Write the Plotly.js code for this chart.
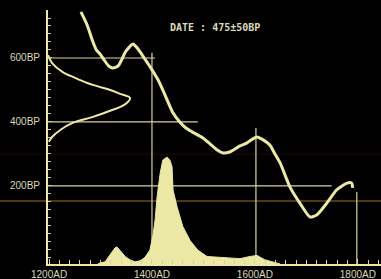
<!DOCTYPE html>
<html>
<head>
<meta charset="utf-8">
<script src="https://cdn.plot.ly/plotly-3.0.1.min.js"></script>
<style>html,body{margin:0;padding:0;background:#000;}#plot{width:381px;height:279px;}</style>
</head>
<body>
<div id="plot"></div>
<script>
// Calibration curve: calendar year (AD) vs radiocarbon age (BP)
const curveYear = [1262,1274,1284,1292,1299,1307,1316,1324,1334,1341,1348,1356,1363,1370,1377,1386,1394,1400,1412,1421,1431,1441,1454,1466,1478,1499,1513,1526,1538,1551,1571,1584,1596,1604,1616,1629,1639,1649,1668,1687,1707,1720,1740,1759,1779,1788,1790];
const curveBP   = [744,703,656,625,613,594,575,569,575,594,618,634,644,634,619,597,578,563,531,500,463,428,400,381,369,350,331,313,303,306,325,334,347,353,344,328,300,272,197,147,103,109,147,188,209,209,194];

// Measured date distribution (475 ± 50 BP), relative probability vs BP
const gaussProb = [0.0,0.05,0.18,0.33,0.48,0.6,0.76,0.88,1.0,0.96,0.88,0.79,0.55,0.3,0.15,0.05,0.01];
const gaussBP   = [609,584,556,538,522,512,500,488,475,459,447,438,416,397,375,353,338];

// Calibrated probability vs calendar year
const histYear = [1295,1299,1309,1318,1328,1332,1338,1348,1357,1367,1377,1386,1396,1402,1406,1410,1416,1421,1429,1435,1439,1441,1449,1454,1460,1474,1489,1507,1538,1571,1590,1604,1619,1639,1649];
const histProb = [0,0.01,0.02,0.08,0.15,0.16,0.13,0.07,0.04,0.02,0.03,0.06,0.13,0.27,0.41,0.63,0.85,0.97,1.0,0.97,0.91,0.69,0.53,0.44,0.35,0.22,0.13,0.07,0.06,0.05,0.07,0.08,0.04,0.01,0];

// Reference lines
const hLineBP = [600,400,200];
const hLineEndYear = [1406,1489,1749];
const vLineYear = [1400,1602,1798];
const vLineTopBP = [616,381,181];

const xTicks = [1200,1400,1600,1800];
const yTicks = [200,400,600];
const titleText = 'DATE : 475±50BP';

const pale = '#ece8a6';
const lineC = '#d6d2a0';
const xMin = 1198, xMax = 1845, yMin = -44, yMax = 750;

const traces = [];
for (let i = 0; i < hLineBP.length; i++) {
  traces.push({x:[xMin, hLineEndYear[i]], y:[hLineBP[i], hLineBP[i]], mode:'lines', line:{color:lineC, width:1.2}, hoverinfo:'skip', showlegend:false});
  traces.push({x:[vLineYear[i], vLineYear[i]], y:[vLineTopBP[i], yMin], mode:'lines', line:{color:lineC, width:1.2}, hoverinfo:'skip', showlegend:false});
}
traces.push({x:histYear, y:histProb, xaxis:'x', yaxis:'y2', mode:'lines', fill:'tozeroy', fillcolor:pale, line:{color:pale, width:1}, showlegend:false});
traces.push({x:curveYear, y:curveBP, mode:'lines', line:{color:pale, width:3, shape:'spline', smoothing:0.6}, showlegend:false});
traces.push({x:gaussProb, y:gaussBP, xaxis:'x2', yaxis:'y', mode:'lines', line:{color:pale, width:2, shape:'spline'}, showlegend:false});

const layout = {
  width:381, height:279,
  margin:{l:48, r:0, t:10, b:15},
  paper_bgcolor:'#000', plot_bgcolor:'#000',
  showlegend:false,
  font:{family:'Liberation Sans, Arial, sans-serif', size:10, color:'#dcd8b8'},
  xaxis:{range:[xMin,xMax], tickvals:xTicks, ticktext:xTicks.map(v=>v+'AD'), showgrid:false, zeroline:false,
         showline:true, linecolor:pale, linewidth:2, ticks:'inside', ticklen:5, tickcolor:lineC, tickwidth:1,
         minor:{ticks:'inside', dtick:20, tick0:1200, ticklen:4, tickcolor:lineC, tickwidth:1},
         tickfont:{size:10, color:'#dcd8b8'}},
  yaxis:{range:[yMin,yMax], tickvals:yTicks, ticktext:yTicks.map(v=>v+'BP'), showgrid:false, zeroline:false,
         showline:true, linecolor:pale, linewidth:2, ticks:'inside', ticklen:4, tickcolor:lineC, tickwidth:1,
         minor:{ticks:'inside', dtick:25, tick0:0, ticklen:3, tickcolor:lineC, tickwidth:1},
         ticklabelstandoff:4, tickfont:{size:10, color:'#dcd8b8'}},
  xaxis2:{overlaying:'x', anchor:'y', range:[0,4.06], visible:false},
  yaxis2:{overlaying:'y', anchor:'x', range:[0,2.374], visible:false},
  shapes:[
    {type:'line', xref:'paper', yref:'paper', x0:-0.15, x1:1.01, y0:0.248, y1:0.248, line:{color:'#6e4812', width:1.5}, layer:'below'},
    {type:'line', xref:'paper', yref:'paper', x0:-0.15, x1:1.01, y0:0.433, y1:0.433, line:{color:'#240a06', width:1}, layer:'below'}
  ],
  annotations:[{text:'<b>'+titleText+'</b>', xref:'paper', yref:'paper', x:0.50, y:0.96, showarrow:false,
    font:{family:'DejaVu Sans Mono, monospace', size:10, color:'#dcd8b8'}}]
};
Plotly.newPlot('plot', traces, layout, {displayModeBar:false, staticPlot:true});
</script>
</body>
</html>
